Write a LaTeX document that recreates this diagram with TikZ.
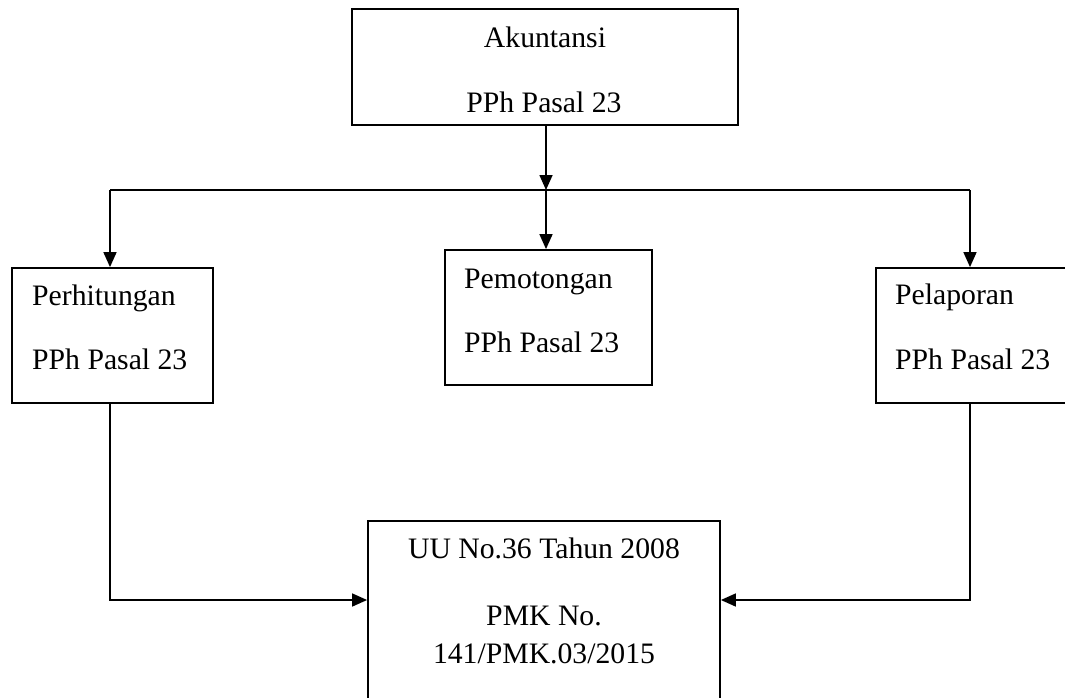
\documentclass[tikz,border=0pt]{standalone}
\usepackage{fontspec}
\setmainfont{Liberation Serif}
\usetikzlibrary{arrows.meta}
\tikzset{
  boxnode/.style={draw=black, line width=1.8pt, rectangle, inner sep=0pt, minimum width=#1},
  txt/.style={inner sep=0pt, font=\fontsize{29.7}{30}\selectfont},
  conn/.style={line width=1.6pt, draw=black},
  arr/.style={conn, -{Triangle[length=15pt,width=13pt]}}
}
\begin{document}
\begin{tikzpicture}[x=1pt,y=-1pt]
\clip (0,0) rectangle (1065,698);
\fill[white] (0,0) rectangle (1065,698);
% boxes
\node[boxnode=386pt, minimum height=116pt] (top) at (545,67) {};
\node[boxnode=201pt, minimum height=135pt] (left) at (112.5,335.5) {};
\node[boxnode=207pt, minimum height=135pt] (mid) at (548.5,317.5) {};
\node[boxnode=201pt, minimum height=135pt] (right) at (976.5,335.5) {};
\node[boxnode=352pt, minimum height=194pt] (bot) at (544,618) {};
% texts
\node[txt, anchor=base] (t1) at (545,48) {Akuntansi};
\node[txt, anchor=base] (t2) at (544,113) {PPh Pasal 23};
\node[txt, anchor=base west] (l1) at (32,305) {Perhitungan};
\node[txt, anchor=base west] (l2) at (32,369) {PPh Pasal 23};
\node[txt, anchor=base west] (m1) at (464,288) {Pemotongan};
\node[txt, anchor=base west] (m2) at (464,352) {PPh Pasal 23};
\node[txt, anchor=base west] (r1) at (895,304) {Pelaporan};
\node[txt, anchor=base west] (r2) at (895,369) {PPh Pasal 23};
\node[txt, anchor=base] (b1) at (544,558) {UU No.36 Tahun 2008};
\node[txt, anchor=base] (b2) at (544,625) {PMK No.};
\node[txt, anchor=base] (b3) at (544,663) {141/PMK.03/2015};
% connectors
\coordinate (barM) at (546,190);
\coordinate (barL) at (110,190);
\coordinate (barR) at (970,190);
\coordinate (jL) at (110,600);
\coordinate (jR) at (970,600);
\draw[arr] (barM |- top.south) -- (barM);
\draw[conn] (barL) -- (barR);
\draw[arr] (barM) -- (barM |- mid.north);
\draw[arr] (barL) -- (barL |- left.north);
\draw[arr] (barR) -- (barR |- right.north);
\draw[arr] (jL |- left.south) -- (jL) -- (jL -| bot.west);
\draw[arr] (jR |- right.south) -- (jR) -- (jR -| bot.east);
\end{tikzpicture}
\end{document}
